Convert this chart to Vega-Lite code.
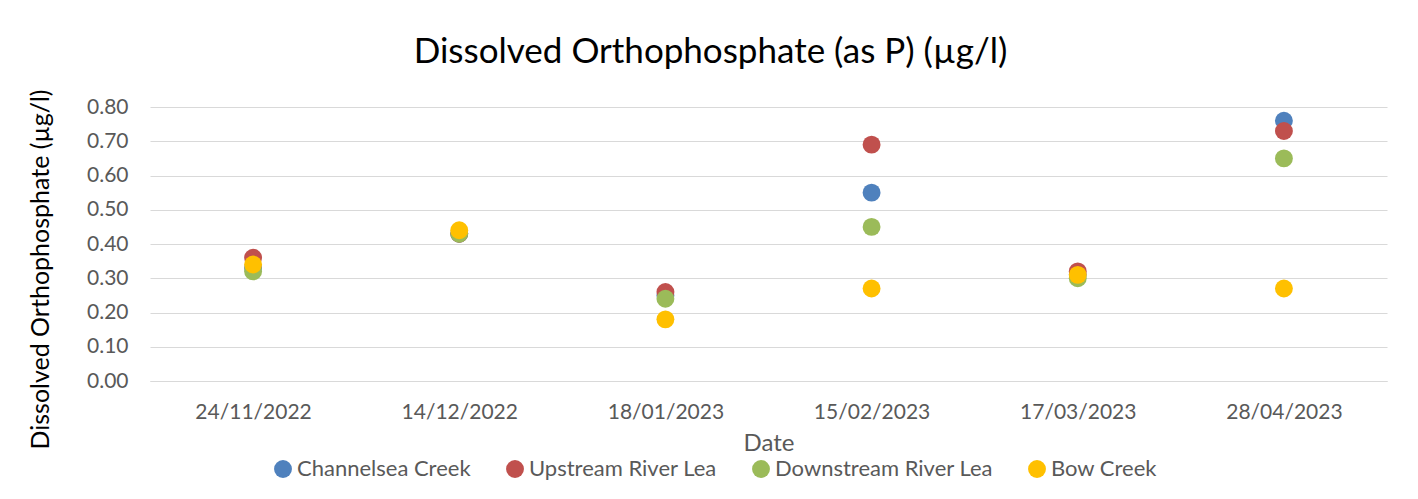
{
  "$schema": "https://vega.github.io/schema/vega-lite/v6.json",
  "autosize": {"type": "none"},
  "width": 1237,
  "height": 274,
  "padding": {"left": 150, "top": 107, "right": 31, "bottom": 118},
  "background": "white",
  "config": {
    "font": "Lato",
    "view": {"stroke": null},
    "axis": {"labelFont": "Lato", "titleFont": "Lato"},
    "legend": {"labelFont": "Lato"}
  },
  "title": {
    "text": "Dissolved Orthophosphate (as P) (µg/l)",
    "fontSize": 35,
    "fontWeight": "normal",
    "color": "#000000",
    "anchor": "middle",
    "dx": -58,
    "offset": 16
  },
  "data": {
    "values": [
      {"date": "24/11/2022", "site": "Channelsea Creek", "value": 0.33},
      {"date": "14/12/2022", "site": "Channelsea Creek", "value": 0.43},
      {"date": "18/01/2023", "site": "Channelsea Creek", "value": 0.25},
      {"date": "15/02/2023", "site": "Channelsea Creek", "value": 0.55},
      {"date": "17/03/2023", "site": "Channelsea Creek", "value": 0.31},
      {"date": "28/04/2023", "site": "Channelsea Creek", "value": 0.76},
      {"date": "24/11/2022", "site": "Upstream River Lea", "value": 0.36},
      {"date": "14/12/2022", "site": "Upstream River Lea", "value": 0.43},
      {"date": "18/01/2023", "site": "Upstream River Lea", "value": 0.26},
      {"date": "15/02/2023", "site": "Upstream River Lea", "value": 0.69},
      {"date": "17/03/2023", "site": "Upstream River Lea", "value": 0.32},
      {"date": "28/04/2023", "site": "Upstream River Lea", "value": 0.73},
      {"date": "24/11/2022", "site": "Downstream River Lea", "value": 0.32},
      {"date": "14/12/2022", "site": "Downstream River Lea", "value": 0.43},
      {"date": "18/01/2023", "site": "Downstream River Lea", "value": 0.24},
      {"date": "15/02/2023", "site": "Downstream River Lea", "value": 0.45},
      {"date": "17/03/2023", "site": "Downstream River Lea", "value": 0.30},
      {"date": "28/04/2023", "site": "Downstream River Lea", "value": 0.65},
      {"date": "24/11/2022", "site": "Bow Creek", "value": 0.34},
      {"date": "14/12/2022", "site": "Bow Creek", "value": 0.44},
      {"date": "18/01/2023", "site": "Bow Creek", "value": 0.18},
      {"date": "15/02/2023", "site": "Bow Creek", "value": 0.27},
      {"date": "17/03/2023", "site": "Bow Creek", "value": 0.31},
      {"date": "28/04/2023", "site": "Bow Creek", "value": 0.27}
    ]
  },
  "mark": {"type": "point", "filled": true, "shape": "circle", "size": 320, "opacity": 1},
  "encoding": {
    "x": {
      "field": "date",
      "type": "nominal",
      "sort": null,
      "scale": {"type": "point", "padding": 0.5},
      "axis": {
        "title": "Date",
        "titleFontSize": 24,
        "titleFontWeight": "normal",
        "titleColor": "#595959",
        "titlePadding": 9,
        "labelAngle": 0,
        "labelFontSize": 21,
        "labelColor": "#595959",
        "labelPadding": 20,
        "ticks": false,
        "grid": false,
        "domainColor": "#d9d9d9",
        "domainWidth": 1
      }
    },
    "y": {
      "field": "value",
      "type": "quantitative",
      "scale": {"domain": [0, 0.8], "nice": false},
      "axis": {
        "title": "Dissolved Orthophosphate  (µg/l)",
        "titleFontSize": 25,
        "titleFontWeight": "normal",
        "titleColor": "#000000",
        "titleAngle": -90,
        "titleX": -110,
        "titleY": 162,
        "titleAlign": "center",
        "titleBaseline": "middle",
        "values": [0, 0.1, 0.2, 0.3, 0.4, 0.5, 0.6, 0.7, 0.8],
        "format": ".2f",
        "labelFontSize": 21,
        "labelColor": "#595959",
        "labelPadding": 22,
        "ticks": false,
        "domain": false,
        "grid": true,
        "gridColor": "#d9d9d9",
        "gridWidth": 1
      }
    },
    "color": {
      "field": "site",
      "type": "nominal",
      "sort": ["Channelsea Creek", "Upstream River Lea", "Downstream River Lea", "Bow Creek"],
      "scale": {
        "domain": ["Channelsea Creek", "Upstream River Lea", "Downstream River Lea", "Bow Creek"],
        "range": ["#4F81BD", "#C0504D", "#9BBB59", "#FFC000"]
      },
      "legend": {
        "title": null,
        "orient": "none",
        "direction": "horizontal",
        "legendX": 122,
        "legendY": 351,
        "symbolType": "circle",
        "symbolSize": 320,
        "symbolOpacity": 1,
        "labelFontSize": 22,
        "labelLimit": 0,
        "labelColor": "#595959",
        "labelOffset": 3,
        "columnPadding": 33
      }
    }
  }
}
